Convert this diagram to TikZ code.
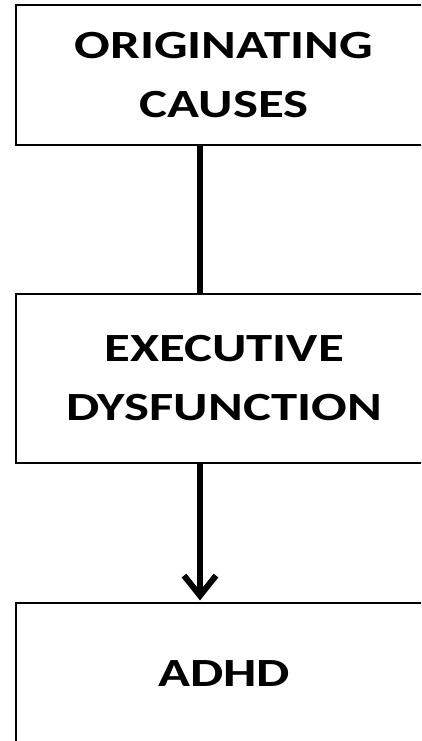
\documentclass[tikz,border=0pt]{standalone}
\usepackage{fontspec}
\setmainfont{Carlito}[FakeStretch=1.32]
\usetikzlibrary{arrows.meta,positioning}

\begin{document}
\begin{tikzpicture}[x=1pt,y=1pt,
          box/.style={draw=black, line width=1.2pt, fill=white,
            minimum width=416pt, align=center,
            font=\bfseries\fontsize{40}{59}\selectfont},
          link/.style={line width=6pt},
          >={Straight Barb[length=20pt,width=32pt]}
        ]
          \useasboundingbox (0,0) rectangle (421,-741);
          \clip (0,0) rectangle (421,-741);
          \node[box, minimum height=140pt] (causes) at (224,-75) {ORIGINATING\\CAUSES};
          \node[box, minimum height=169pt] (exec) at (224,-378.5) {EXECUTIVE\\DYSFUNCTION};
          \node[box, minimum height=142pt] (adhd) at (224,-674) {ADHD};
          \draw[link] ([xshift=-24pt]causes.south) -- ([xshift=-24pt]exec.north);
          \draw[link,->] ([xshift=-24pt]exec.south) -- ([xshift=-24pt,yshift=2pt]adhd.north);
        \end{tikzpicture}
\end{document}
